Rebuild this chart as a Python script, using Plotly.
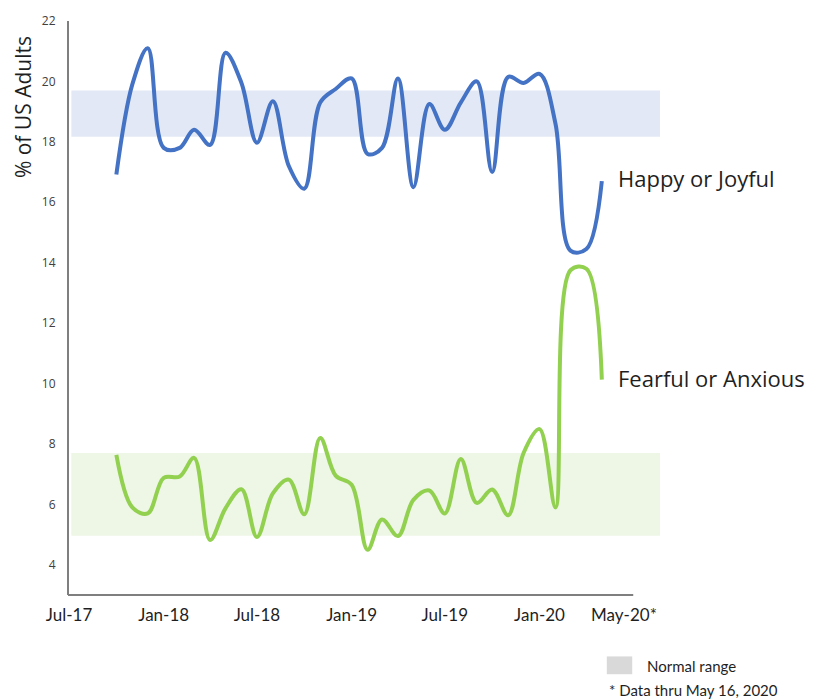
import datetime as dt
import plotly.graph_objects as go

# Monthly survey readings, Oct 2017 - May 2020
months = [
    "2017-10-01", "2017-11-01", "2017-12-01", "2018-01-01", "2018-02-01", "2018-03-01",
    "2018-04-01", "2018-05-01", "2018-06-01", "2018-07-01", "2018-08-01", "2018-09-01",
    "2018-10-01", "2018-11-01", "2018-12-01", "2019-01-01", "2019-02-01", "2019-03-01",
    "2019-04-01", "2019-05-01", "2019-06-01", "2019-07-01", "2019-08-01", "2019-09-01",
    "2019-10-01", "2019-11-01", "2019-12-01", "2020-01-01", "2020-02-01", "2020-03-01",
    "2020-04-01", "2020-05-01",
]
happy = [
    16.92, 19.9, 21.1, 17.8, 17.8, 18.4, 17.9, 20.95, 19.95, 17.97, 19.34, 17.2,
    16.45, 19.3, 19.75, 20.1, 17.6, 17.8, 20.1, 16.5, 19.25, 18.4, 19.3, 20.0,
    17.0, 20.15, 19.95, 20.25, 18.6, 14.4, 14.45, 16.7,
]
fearful = [
    7.64, 5.9, 5.7, 6.88, 6.92, 7.54, 4.82, 5.87, 6.5, 4.92, 6.36, 6.82,
    5.67, 8.2, 6.95, 6.65, 4.5, 5.5, 4.95, 6.15, 6.46, 5.7, 7.5, 6.05,
    6.49, 5.64, 7.7, 8.49, 5.9, 13.75, 13.8, 10.13,
]
happy_range = (18.17, 19.7)
fearful_range = (4.96, 7.7)

tick_vals = ["2017-07-01", "2018-01-01", "2018-07-01", "2019-01-01",
             "2019-07-01", "2020-01-01", "2020-06-13"]
tick_text = ["Jul-17", "Jan-18", "Jul-18", "Jan-19", "Jul-19", "Jan-20", "May-20*"]
y_ticks = [4, 6, 8, 10, 12, 14, 16, 18, 20, 22]

BLUE = "#4472C4"
GREEN = "#92D050"
AXIS = "#7F7F7F"
TEXT = "#1F1F1F"

x_start, axis_end, x_end = "2017-07-01", "2020-07-01", "2020-08-22"
d = lambda s: dt.date.fromisoformat(s)
axis_frac = (d(axis_end) - d(x_start)).days / (d(x_end) - d(x_start)).days

fig = go.Figure()
fig.add_trace(go.Scatter(x=months, y=happy, mode="lines", name="Happy or Joyful",
                         line=dict(color=BLUE, width=4, shape="spline", smoothing=1.0)))
fig.add_trace(go.Scatter(x=months, y=fearful, mode="lines", name="Fearful or Anxious",
                         line=dict(color=GREEN, width=4, shape="spline", smoothing=1.0)))

shapes = [
    dict(type="rect", xref="paper", yref="y", x0=0.004, x1=1,
         y0=happy_range[0], y1=happy_range[1], fillcolor="#E2E8F5",
         line=dict(width=0), layer="below"),
    dict(type="rect", xref="paper", yref="y", x0=0.004, x1=1,
         y0=fearful_range[0], y1=fearful_range[1], fillcolor="#EEF6E6",
         line=dict(width=0), layer="below"),
    # horizontal axis line stops short of the shaded bands
    dict(type="line", xref="paper", yref="paper", x0=-0.0017, x1=axis_frac, y0=0, y1=0,
         line=dict(color=AXIS, width=2)),
    # legend swatch for the shaded bands
    dict(type="rect", xref="paper", yref="paper", x0=0.910, x1=0.953, y0=-0.138, y1=-0.107,
         fillcolor="#D9D9D9", line=dict(width=0)),
]

annotations = [
    dict(x=months[-1], y=happy[-1], xref="x", yref="y", text="Happy or Joyful",
         showarrow=False, xanchor="left", yanchor="middle", xshift=14, yshift=3,
         font=dict(family="Open Sans", size=22, color=TEXT)),
    dict(x=months[-1], y=fearful[-1], xref="x", yref="y", text="Fearful or Anxious",
         showarrow=False, xanchor="left", yanchor="middle", xshift=14, yshift=2,
         font=dict(family="Open Sans", size=22, color=TEXT)),
    dict(x=0, y=19.15, xref="paper", yref="y", text="% of US Adults", textangle=-90,
         showarrow=False, xanchor="center", yanchor="middle", xshift=-46,
         font=dict(family="Open Sans", size=21, color=TEXT)),
    dict(x=0.974, y=-0.1235, xref="paper", yref="paper", text="Normal range",
         showarrow=False, xanchor="left", yanchor="middle",
         font=dict(family="Lato", size=15, color=TEXT)),
    dict(x=0.910, y=-0.166, xref="paper", yref="paper", text="* Data thru May 16, 2020",
         showarrow=False, xanchor="left", yanchor="middle",
         font=dict(family="Lato", size=15, color=TEXT)),
]

fig.update_layout(
    width=824, height=700, autosize=False,
    margin=dict(l=69, r=164, t=16, b=105),
    paper_bgcolor="white", plot_bgcolor="white",
    showlegend=False,
    shapes=shapes, annotations=annotations,
    xaxis=dict(type="date", range=[x_start, x_end], showgrid=False, zeroline=False,
               showline=False, tickvals=tick_vals, ticktext=tick_text,
               ticks="outside", ticklen=5, tickcolor="rgba(0,0,0,0)",
               tickfont=dict(family="Lato", size=17, color=TEXT)),
    yaxis=dict(range=[3, 22], showgrid=False, zeroline=False, showline=True,
               linecolor=AXIS, linewidth=2, tickvals=y_ticks,
               ticks="outside", ticklen=9, tickcolor="rgba(0,0,0,0)",
               tickfont=dict(family="Open Sans", size=12, color="#404040")),
)

fig.write_html("out.html")
